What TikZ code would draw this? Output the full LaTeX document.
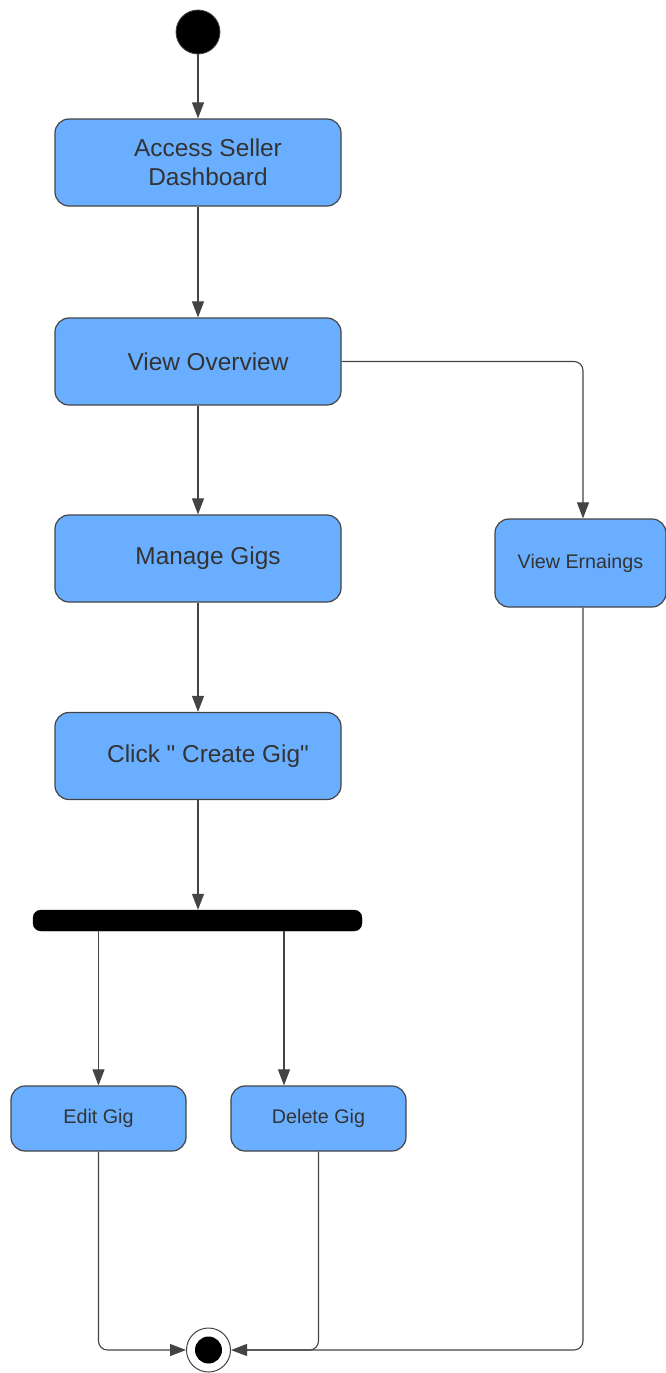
\documentclass[tikz,border=0pt]{standalone}
\usepackage{fontspec}
\setmainfont{Liberation Sans}[Ligatures=TeXOff]
\usetikzlibrary{arrows.meta}
\definecolor{boxfill}{HTML}{6AAFFF}
\definecolor{edge}{HTML}{444444}
\definecolor{txt}{HTML}{333333}
\tikzset{
  act/.style={draw=edge, line width=1.2pt, fill=boxfill, rounded corners=14pt, inner sep=0pt},
  bigbox/.style={act, minimum width=286pt, minimum height=87pt},
  smallbox/.style={act, minimum width=175pt, minimum height=65pt},
  biglbl/.style={xshift=10pt, font=\fontsize{24.4}{29}\selectfont, text=txt, align=center},
  smalllbl/.style={font=\fontsize{19.7}{24}\selectfont, text=txt, align=center},
  flow/.style={draw=edge, line width=1.1pt, -{Triangle[length=16pt,width=12pt]}},
  flowline/.style={draw=edge, line width=1.1pt, rounded corners=9pt},
}
\begin{document}
\begin{tikzpicture}[x=1pt,y=-1pt]
\useasboundingbox (0,0) rectangle (666,1373);
% start
\node[circle, fill=black, draw=edge, line width=0.8pt, minimum size=44pt, inner sep=0pt] (start) at (198,32) {};
% activities
\node[bigbox, label={[biglbl]center:Access Seller\\Dashboard}] (a1) at (198,162.5) {};
\node[bigbox, label={[biglbl]center:View Overview}] (ov) at (198,361.5) {};
\node[bigbox, label={[biglbl]center:Manage Gigs}] (mg) at (198,558.5) {};
\node[bigbox, label={[biglbl]center:Click " Create Gig"}] (cg) at (198,756) {};
\node[act, minimum width=171pt, minimum height=88pt, label={[smalllbl]center:View Ernaings}] (ve) at (580.5,563) {};
% fork bar
\node[draw=black, fill=black, rounded corners=8pt, minimum width=329pt, minimum height=21pt, inner sep=0pt] (bar) at (197.5,920.5) {};
\node[smallbox, label={[smalllbl]center:Edit Gig}] (ed) at (98.5,1118.5) {};
\node[smallbox, label={[smalllbl]center:Delete Gig}] (dl) at (318.5,1118.5) {};
% end
\node[circle, draw=edge, fill=white, line width=1pt, minimum size=44pt, inner sep=0pt] (fin) at (208.5,1350) {};
\node[circle, fill=black, minimum size=27pt, inner sep=0pt] (fininner) at (fin.center) {};
% connectors
\draw[flow] (start) -- (a1);
\draw[flow] (a1) -- (ov);
\draw[flow] (ov) -- (mg);
\draw[flow] (mg) -- (cg);
\draw[flow] (cg.south) -- (bar.north -| cg.south);
\draw[flow] (bar.south -| ed.north) -- (ed.north);
\coordinate (dlin) at (284,0);
\draw[flow] (bar.south -| dlin) -- (dl.north -| dlin);
\coordinate (vex) at (583,0);
\draw[flowline] (ov.east) -- (ov.east -| vex) -- ([yshift=10pt]ve.north -| vex);
\draw[flow] ([yshift=12pt]ve.north -| vex) -- (ve.north -| vex);
\draw[flowline] (ed.south) |- ([xshift=-14pt]fin.west);
\draw[flow] ([xshift=-16pt]fin.west) -- (fin.west);
\draw[flowline] (dl.south) |- ([xshift=14pt]fin.east);
\draw[flowline] (ve.south -| vex) |- ([xshift=14pt]fin.east);
\draw[flow] ([xshift=16pt]fin.east) -- (fin.east);
\end{tikzpicture}
\end{document}
